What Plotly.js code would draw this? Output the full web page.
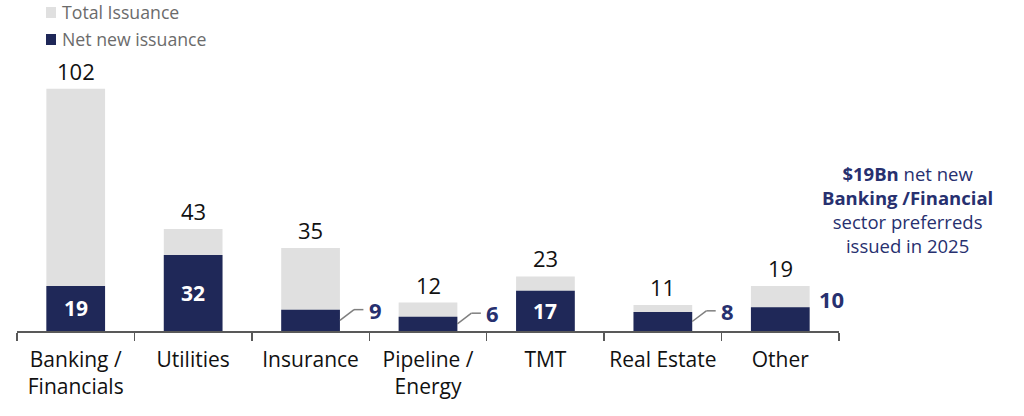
<!DOCTYPE html>
<html>
<head>
<meta charset="utf-8">
<script src="https://cdn.plot.ly/plotly-3.0.1.min.js"></script>
<style>
  html, body { margin: 0; padding: 0; background: #ffffff; }
  #chart { width: 1024px; height: 416px; }
</style>
</head>
<body>
<div id="chart"></div>
<script>
// Preferred issuance by sector, $Bn
const sectors = ['Banking /<br>Financials', 'Utilities', 'Insurance', 'Pipeline /<br>Energy', 'TMT', 'Real Estate', 'Other'];
const totalIssuance = [102, 43, 35, 12, 23, 11, 19];
const netNewIssuance = [19, 32, 9, 6, 17, 8, 10];
// where each net label sits: inside the bar, beside it with a leader line, or beside it
const netLabelPlacement = ['inside', 'inside', 'leader', 'leader', 'inside', 'leader', 'side'];
const seriesNames = ['Total Issuance', 'Net new issuance'];

const GRAY = '#e0e0e0';
const NAVY = '#1f2858';
const NAVY_TEXT = '#27306f';
const FONT = 'Open Sans, Noto Sans, sans-serif';

const yMax = 131;

const traces = [
  {
    type: 'bar', name: seriesNames[0], x: sectors, y: totalIssuance,
    width: 0.5, marker: { color: GRAY }, hoverinfo: 'x+y'
  },
  {
    type: 'bar', name: seriesNames[1], x: sectors, y: netNewIssuance,
    width: 0.5, marker: { color: NAVY }, hoverinfo: 'x+y'
  }
];

const annotations = [];
const shapes = [];

// total labels above the grey bars
totalIssuance.forEach((v, i) => {
  annotations.push({
    x: i, y: v, xref: 'x', yref: 'y', text: String(v), showarrow: false,
    yanchor: 'bottom', yshift: 1,
    font: { family: FONT, size: 22, color: '#111111' }
  });
});

// net new labels
netNewIssuance.forEach((v, i) => {
  const place = netLabelPlacement[i];
  if (place === 'inside') {
    annotations.push({
      x: i, y: v / 2, xref: 'x', yref: 'y', text: '<b>' + v + '</b>', showarrow: false,
      yanchor: 'middle', font: { family: FONT, size: 21, color: '#ffffff' }
    });
  } else if (place === 'leader') {
    const y0 = v * 0.5;
    const y1 = y0 + 4.5;
    shapes.push({ type: 'line', xref: 'x', yref: 'y', x0: i + 0.25, y0: y0, x1: i + 0.37, y1: y1,
                  line: { color: '#7f7f7f', width: 1.5 } });
    shapes.push({ type: 'line', xref: 'x', yref: 'y', x0: i + 0.37, y0: y1, x1: i + 0.45, y1: y1,
                  line: { color: '#7f7f7f', width: 1.5 } });
    annotations.push({
      x: i + 0.48, y: y1, xref: 'x', yref: 'y', text: '<b>' + v + '</b>', showarrow: false,
      xanchor: 'left', yanchor: 'middle', font: { family: FONT, size: 22, color: NAVY_TEXT }
    });
  } else {
    annotations.push({
      x: i + 0.31, y: v + 3.3, xref: 'x', yref: 'y', text: '<b>' + v + '</b>', showarrow: false,
      xanchor: 'left', yanchor: 'middle', font: { family: FONT, size: 22, color: NAVY_TEXT }
    });
  }
});

// call-out on the right
annotations.push({
  xref: 'paper', yref: 'paper', x: 1.083, y: 0.39, xanchor: 'center', yanchor: 'middle',
  align: 'center', showarrow: false,
  text: '<b>$19Bn</b> net new<br><b>Banking /Financial</b><br>sector preferreds<br>issued in 2025',
  font: { family: FONT, size: 18.5, color: NAVY_TEXT }
});

// legend drawn as swatches + labels in the top-left corner
const legendRows = [
  { name: seriesNames[0], color: GRAY, top: 7 },
  { name: seriesNames[1], color: NAVY, top: 34 }
];
legendRows.forEach(r => {
  shapes.push({
    type: 'rect', xref: 'paper', yref: 'paper',
    x0: (46 - 17) / 822, x1: (56 - 17) / 822,
    y0: (331 - (r.top + 11)) / 311, y1: (331 - r.top) / 311,
    fillcolor: r.color, line: { width: 0 }
  });
  annotations.push({
    xref: 'paper', yref: 'paper', x: (60 - 17) / 822, y: (331 - (r.top + 5)) / 311,
    xanchor: 'left', yanchor: 'middle', showarrow: false, text: r.name,
    font: { family: FONT, size: 17.7, color: '#6b6b6b' }
  });
});

const layout = {
  width: 1024, height: 416,
  margin: { l: 17, r: 185, t: 20, b: 85 },
  paper_bgcolor: '#ffffff', plot_bgcolor: '#ffffff',
  barmode: 'overlay', showlegend: false,
  xaxis: {
    type: 'category', range: [-0.5, 6.5], tickson: 'boundaries', ticks: 'outside', ticklen: 8, tickwidth: 1.5,
    tickcolor: '#595959', showline: true, linecolor: '#595959', linewidth: 1.5,
    showgrid: false, zeroline: false, fixedrange: true, ticklabelstandoff: 9, tickangle: 0,
    tickfont: { family: FONT, size: 21, color: '#111111' }
  },
  yaxis: { visible: false, range: [0, yMax], fixedrange: true },
  annotations: annotations,
  shapes: shapes
};

Plotly.newPlot('chart', traces, layout, { displayModeBar: false, staticPlot: true });
</script>
</body>
</html>
